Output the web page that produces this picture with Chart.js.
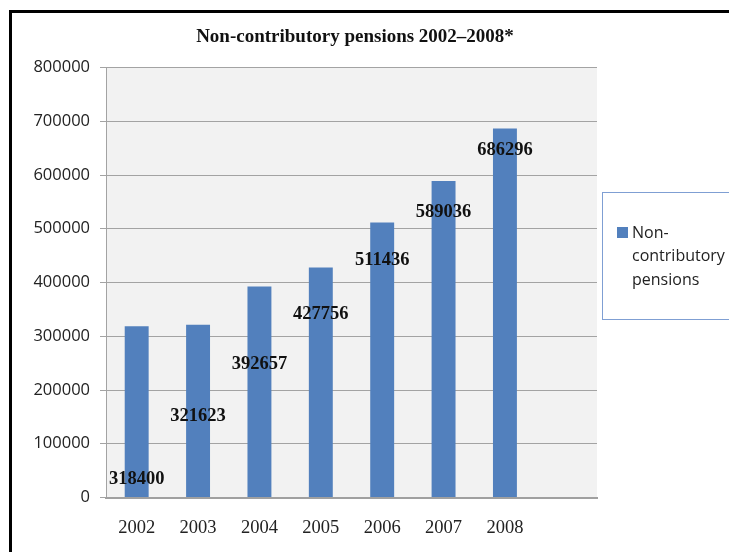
<!DOCTYPE html>
<html><head><meta charset="utf-8">
<script src="https://cdn.jsdelivr.net/npm/chart.js@4/dist/chart.umd.min.js"></script>
<style>html,body{margin:0;padding:0;background:#fff;overflow:hidden}#wrap{position:relative;width:729px;height:552px}</style>
</head><body><div id="wrap"><canvas id="c" width="729" height="552"></canvas></div>
<script>
const titleText = 'Non-contributory pensions 2002\u20132008*';
const categories = ['2002','2003','2004','2005','2006','2007','2008',''];
const seriesName = 'Non-contributory pensions';
const legendLines = ['Non-','contributory','pensions'];
const pensions = [318400,321623,392657,427756,511436,589036,686296,null];
const labelAnchors = [34400,151600,248400,340800,441900,530600,646500];
const yTickValues = [0,100000,200000,300000,400000,500000,600000,700000,800000];

const barColor = '#5280bd';

const decor = {
  id:'decor',
  beforeDraw(chart){
    const {ctx, chartArea:a} = chart;
    ctx.save();
    ctx.fillStyle = '#fff';
    ctx.fillRect(0,0,chart.width,chart.height);
    ctx.fillStyle = '#f2f2f2';
    ctx.fillRect(a.left,a.top,a.right-a.left,a.bottom-a.top);
    ctx.restore();
  },
  afterDatasetsDraw(chart){
    const ctx = chart.ctx, xs = chart.scales.x, ys = chart.scales.y;
    ctx.save();
    ctx.font = 'bold 18.5px "Liberation Serif", "Times New Roman", serif';
    ctx.fillStyle = '#111';
    ctx.textAlign = 'center';
    ctx.textBaseline = 'middle';
    labelAnchors.forEach((v,i)=>{
      ctx.fillText(String(pensions[i]), xs.getPixelForValue(i), ys.getPixelForValue(v));
    });
    ctx.restore();
  },
  afterDraw(chart){
    const ctx = chart.ctx;
    ctx.save();
    ctx.strokeStyle = '#000';
    ctx.lineWidth = 3;
    ctx.beginPath();
    ctx.moveTo(10.5, 560); ctx.lineTo(10.5, 11.5); ctx.lineTo(740, 11.5);
    ctx.stroke();
    ctx.font = 'bold 19px "Liberation Serif", "Times New Roman", serif';
    ctx.fillStyle = '#111';
    ctx.textAlign = 'center';
    ctx.textBaseline = 'middle';
    ctx.fillText(titleText, 355, 37);
    ctx.fillStyle = '#fff';
    ctx.fillRect(602, 192, 140, 127);
    ctx.strokeStyle = '#7f9fd3';
    ctx.lineWidth = 1;
    ctx.strokeRect(602.5, 192.5, 140, 127);
    ctx.fillStyle = barColor;
    ctx.fillRect(617, 227, 11, 11);
    ctx.font = '16px "Open Sans", sans-serif';
    ctx.fillStyle = '#222';
    ctx.textAlign = 'left';
    legendLines.forEach((t,i)=>ctx.fillText(t, 632, 233 + i*23.5));
    ctx.restore();
  }
};

new Chart(document.getElementById('c'), {
  type:'bar',
  data:{ labels:categories, datasets:[{ label:seriesName, data:pensions, backgroundColor:barColor, borderWidth:0, categoryPercentage:1, barPercentage:0.39 }]},
  options:{
    responsive:false, animation:false,
    layout:{ padding:{ top:67.5, right:132, bottom:0, left:0 } },
    plugins:{ legend:{display:false}, title:{display:false}, tooltip:{enabled:false} },
    scales:{
      y:{
        min:0, max:800000,
        afterFit(s){ s.width = 106; },
        afterBuildTicks(s){ s.ticks = yTickValues.map(v=>({value:v})); },
        ticks:{ font:{family:'"Open Sans", sans-serif', size:16.5}, color:'#222', padding:10, callback:v=>String(v) },
        grid:{ color:'#a3a3a3', lineWidth:1, tickLength:6 },
        border:{ color:'#a3a3a3', width:1 }
      },
      x:{
        afterFit(s){ s.height = 54.5; },
        ticks:{ font:{family:'"Liberation Serif", "Times New Roman", serif', size:18.5}, color:'#222', padding:20, maxRotation:0, autoSkip:false },
        grid:{ display:false, drawTicks:false },
        border:{ color:'#a0a0a0', width:2 }
      }
    }
  },
  plugins:[decor]
});
</script></body></html>
